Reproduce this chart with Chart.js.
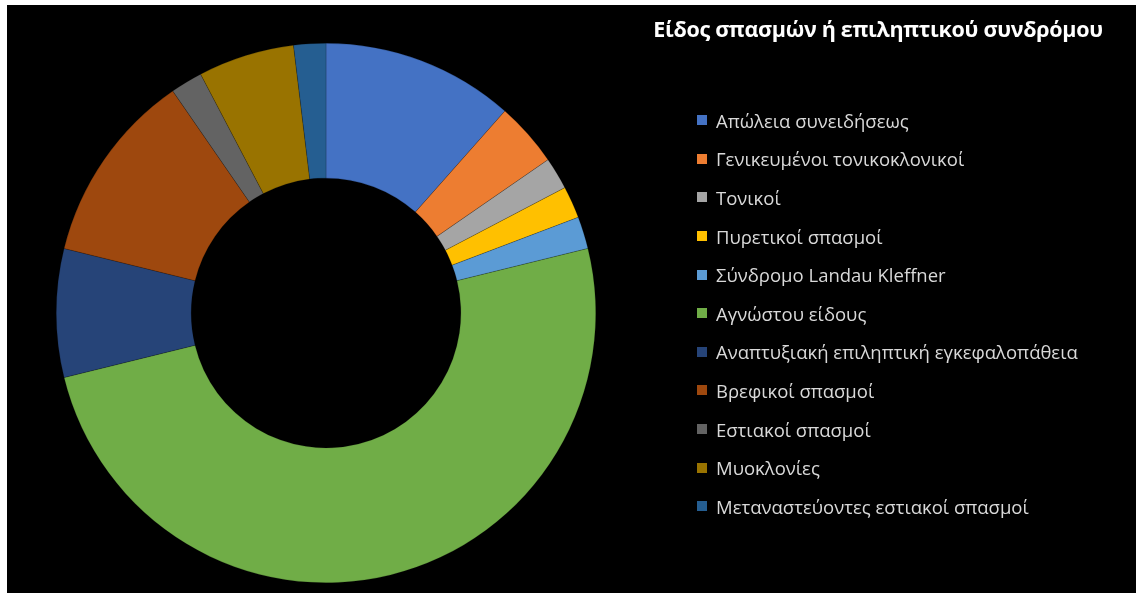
<!DOCTYPE html>
<html>
<head>
<meta charset="utf-8">
<script src="https://cdn.jsdelivr.net/npm/chart.js@4"></script>
<style>
  html, body { margin: 0; padding: 0; background: #fff; }
  #frame {
    position: absolute; left: 7px; top: 5px; width: 1129px; height: 588px;
    background: #000; overflow: hidden;
  }
  #chart { position: absolute; left: 0; top: 0; }
  #title {
    position: absolute; left: 571px; width: 600px; top: 9px;
    text-align: center; color: #fff; font: bold 21.5px "Open Sans", sans-serif;
    letter-spacing: -0.3px;
  }
  #legend { position: absolute; left: 690px; top: 96px; }
  .item {
    height: 38.6px; display: flex; align-items: center;
    color: #d9d9d9; font: 18.5px "Open Sans", sans-serif; white-space: nowrap;
  }
  .swatch { width: 10px; height: 10px; margin-right: 9px; }
</style>
</head>
<body>
<div id="frame">
  <canvas id="chart" width="1129" height="588"></canvas>
  <div id="title">Είδος σπασμών ή επιληπτικού συνδρόμου</div>
  <div id="legend"></div>
</div>
<script>
// ── DATA ──
const categories = [
  "Απώλεια συνειδήσεως",
  "Γενικευμένοι τονικοκλονικοί",
  "Τονικοί",
  "Πυρετικοί σπασμοί",
  "Σύνδρομο Landau Kleffner",
  "Αγνώστου είδους",
  "Αναπτυξιακή επιληπτική εγκεφαλοπάθεια",
  "Βρεφικοί σπασμοί",
  "Εστιακοί σπασμοί",
  "Μυοκλονίες",
  "Μεταναστεύοντες εστιακοί σπασμοί"
];
const counts = [6, 2, 1, 1, 1, 26, 4, 6, 1, 3, 1];
const colors = [
  "#4472C4", "#ED7D31", "#A5A5A5", "#FFC000", "#5B9BD5", "#70AD47",
  "#264478", "#9E480E", "#636363", "#997300", "#255E91"
];

// ── CHART ──
const chart = new Chart(document.getElementById("chart"), {
  type: "doughnut",
  data: {
    labels: categories,
    datasets: [{
      data: counts,
      backgroundColor: colors,
      borderColor: "rgba(0,0,0,0.35)",
      borderWidth: 0.5
    }]
  },
  options: {
    responsive: false,
    animation: false,
    cutout: "50%",
    layout: { padding: { top: 38, bottom: 10, left: 49, right: 540 } },
    plugins: {
      legend: { display: false },
      tooltip: { enabled: false }
    }
  }
});

// ── LEGEND ──
document.getElementById("legend").innerHTML = categories.map((c, i) => `
  <div class="item"><span class="swatch" style="background:${colors[i]}"></span>${c}</div>`).join("");
</script>
</body>
</html>
